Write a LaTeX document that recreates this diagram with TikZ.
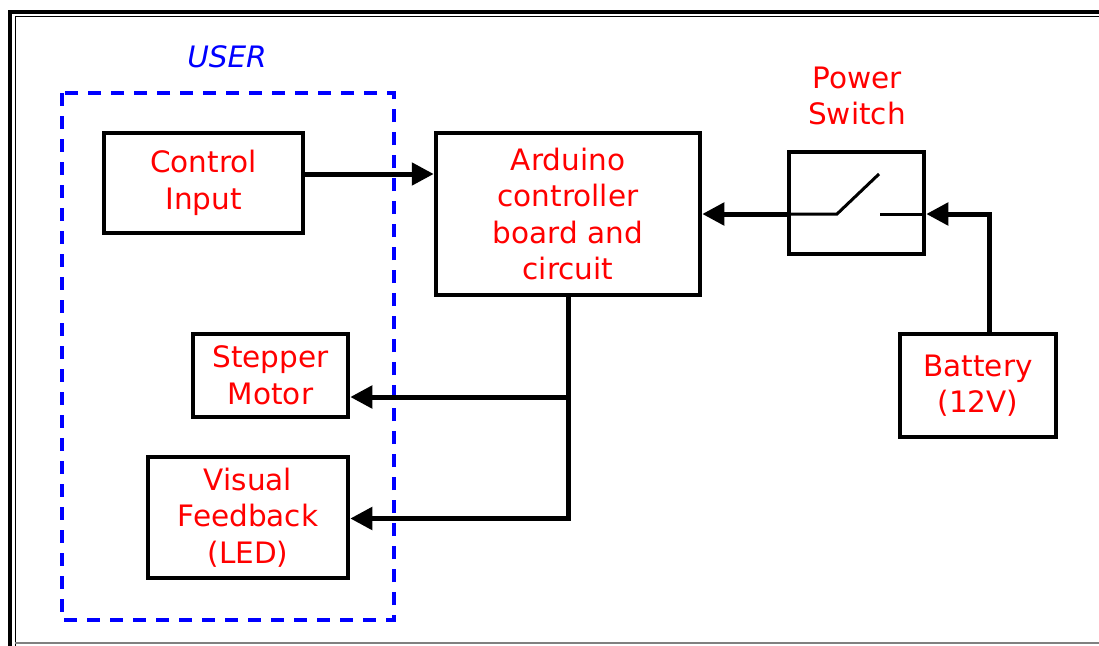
\documentclass[tikz,border=0pt]{standalone}
\usepackage{fontspec}
\setmainfont{DejaVu Sans}
\usetikzlibrary{arrows.meta}
\begin{document}
\begin{tikzpicture}[x=1pt,y=-1pt,
  txt/.style={font=\fontsize{29.5}{36.5}\selectfont, text=red, align=center},
  blk/.style={txt, draw=black, line width=4.5pt, inner sep=0pt},
  conn/.style={line width=5pt, draw=black},
  arr/.style={conn, -{Triangle[length=22pt,width=22pt]}},
  userbox/.style={draw=blue, line width=4pt, dash pattern=on 13pt off 10pt}
]
\clip (0,0) rectangle (1099,645);
\fill[white] (0,0) rectangle (1099,645);
% frame
\draw[line width=4pt] (10,700) -- (10,12) -- (1150,12);
\draw[line width=1pt] (15,700) -- (15,16.5) -- (1150,16.5);
\draw[gray, line width=1.5pt] (15,643) -- (1150,643);

% user group
\node[font=\fontsize{29.5}{36.5}\selectfont\itshape, text=blue] (userlbl) at (227,57) {USER};
\draw[userbox] (62,93) rectangle (394,620);

% blocks
\node[blk, minimum width=199pt, minimum height=100pt] (ctrl) at (203.5,183) {Control\\Input};
\node[blk, minimum width=264pt, minimum height=162pt] (ard) at (568,214) {Arduino\\controller\\board and\\circuit};
\node[blk, minimum width=155pt, minimum height=83pt] (step) at (270.5,375.5) {Stepper\\Motor};
\node[blk, minimum width=200pt, minimum height=121pt] (vis) at (248,517.5) {Visual\\Feedback\\(LED)};
\node[blk, minimum width=156pt, minimum height=103pt] (bat) at (978,385.5) {Battery\\(12V)};
\node[draw=black, line width=4.5pt, minimum width=135pt, minimum height=102pt, inner sep=0pt] (sw) at (856.5,203) {};
\node[txt] (swlbl) at (857,96) {Power\\Switch};

% switch symbol
\coordinate (sy) at (0,214);
\draw[line width=3pt] (sw.west |- sy) -- (837,214) -- (879,174);
\draw[line width=3pt] (880,214) -- (sw.east |- sy);

% connectors
\draw[arr] ([yshift=9pt]ctrl.east) -- ([yshift=9pt]ctrl.east -| ard.west);
\draw[arr] (sw.west |- sy) -- (ard.east |- sy);
\coordinate (bt) at (989,0);
\draw[arr] (bat.north -| bt) |- (sw.east |- sy);
\coordinate (st) at (0,397);
\draw[arr] (ard.south) |- ([yshift=-1pt]vis.east);
\draw[arr] (ard.south |- st) -- (step.east |- st);
\end{tikzpicture}
\end{document}
